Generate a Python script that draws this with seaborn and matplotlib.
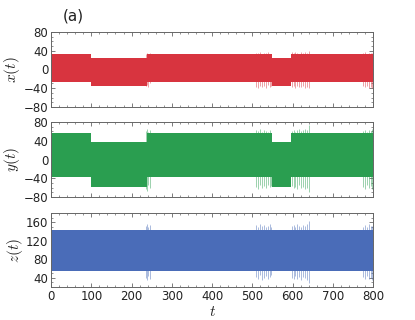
import numpy as np
import pandas as pd
import seaborn as sns
import matplotlib.pyplot as plt
from matplotlib.ticker import MultipleLocator

# segment boundaries in t (regime switches)
seg_t = [0, 100, 238, 507, 549, 596, 643, 772, 800]

# band envelopes for each segment
x_upper = [32, 25, 32, 32, 25, 32, 32, 32]
x_lower = [-27, -35, -27, -27, -35, -27, -27, -27]
y_upper = [56, 37, 56, 56, 37, 56, 56, 56]
y_lower = [-38, -58, -38, -38, -58, -38, -38, -38]
z_upper = [143, 143, 143, 143, 143, 143, 143, 143]
z_lower = [55, 55, 55, 55, 55, 55, 55, 55]

# bursts poking out of the band in the intermittent stretches
spike_t = [236, 239, 242, 245,
           510, 515, 519, 524, 528, 533, 538, 543, 547,
           598, 603, 607, 611, 616, 621, 626, 631, 636, 640,
           775, 780, 784, 789, 794, 798]
x_spike_top = [34, 36, 33, 35,
               36, 35, 37, 34, 36, 35, 37, 33, 34,
               37, 35, 38, 36, 34, 37, 35, 38, 36, 40,
               35, 37, 34, 36, 35, 36]
x_spike_bot = [-36, -33, -38, -30,
               -37, -39, -35, -38, -36, -39, -34, -37, -36,
               -38, -36, -39, -35, -37, -38, -36, -39, -37, -40,
               -36, -38, -35, -39, -37, -40]
y_spike_top = [60, 64, 58, 62,
               62, 60, 64, 58, 63, 61, 59, 62, 57,
               61, 63, 59, 62, 64, 60, 62, 66, 63, 74,
               60, 63, 58, 62, 61, 64]
y_spike_bot = [-62, -66, -55, -60,
               -58, -62, -55, -60, -57, -61, -54, -59, -56,
               -56, -60, -58, -62, -55, -61, -59, -63, -60, -70,
               -58, -62, -55, -60, -57, -63]
z_spike_top = [152, 156, 150, 154,
               154, 150, 156, 152, 155, 151, 153, 156, 150,
               152, 155, 150, 156, 153, 151, 154, 152, 157, 164,
               151, 155, 150, 156, 153, 152]
z_spike_bot = [40, 36, 44, 38,
               42, 38, 45, 36, 40, 44, 37, 41, 46,
               40, 37, 43, 38, 42, 36, 41, 39, 35, 29,
               42, 38, 44, 37, 40, 36]

panels = [
    ('$x(t)$', '#d8343f', x_upper, x_lower, x_spike_top, x_spike_bot, (-80, 80), [-80, -40, 0, 40, 80]),
    ('$y(t)$', '#2a9e50', y_upper, y_lower, y_spike_top, y_spike_bot, (-80, 80), [-80, -40, 0, 40, 80]),
    ('$z(t)$', '#4a6cb8', z_upper, z_lower, z_spike_top, z_spike_bot, (20, 180), [40, 80, 120, 160]),
]

sns.set_theme(style='ticks')
plt.rcParams['font.family'] = ['DejaVu Sans']
plt.rcParams['mathtext.fontset'] = 'cm'

fig = plt.figure(figsize=(4.15, 3.2), dpi=100)
boxes = [[0.123, 0.666, 0.776, 0.234],
         [0.123, 0.384, 0.776, 0.235],
         [0.123, 0.103, 0.776, 0.231]]

for box, (label, color, up, lo, s_top, s_bot, ylim, yticks) in zip(boxes, panels):
    ax = fig.add_axes(box)
    df = pd.DataFrame({'t': seg_t, 'upper': up + [up[-1]], 'lower': lo + [lo[-1]]})
    ax.fill_between(df['t'], df['lower'], df['upper'], step='post', color=color, lw=0)

    # burst lines from the band edge out to the read extremes
    idx = np.searchsorted(seg_t, spike_t, side='right') - 1
    edge_up = np.array(up)[idx]
    edge_lo = np.array(lo)[idx]
    ax.vlines(spike_t, edge_up - 2, s_top, color=color, lw=0.5, alpha=0.65)
    ax.vlines(spike_t, s_bot, edge_lo + 2, color=color, lw=0.5, alpha=0.65)

    ax.set_xlim(0, 800)
    ax.set_ylim(*ylim)
    ax.set_yticks(yticks)
    ax.xaxis.set_major_locator(MultipleLocator(100))
    ax.xaxis.set_minor_locator(MultipleLocator(20))
    ax.yaxis.set_minor_locator(MultipleLocator(10))
    ax.tick_params(which='both', direction='in', top=True, right=True,
                   colors='#666666', labelcolor='#222222', labelsize=8.5, pad=2)
    ax.tick_params(which='major', length=3, width=0.6)
    ax.tick_params(which='minor', length=1.5, width=0.5)
    for sp in ax.spines.values():
        sp.set_color('#666666')
        sp.set_linewidth(0.7)
    ax.set_ylabel(label, fontsize=11, labelpad=1, color='#222222')
    if label != '$z(t)$':
        ax.set_xticklabels([])
    else:
        ax.set_xlabel('$t$', fontsize=11, labelpad=1, color='#222222')

fig.text(0.15, 0.935, '(a)', fontsize=11, color='#222222')

fig.savefig('out.png', dpi=100)
